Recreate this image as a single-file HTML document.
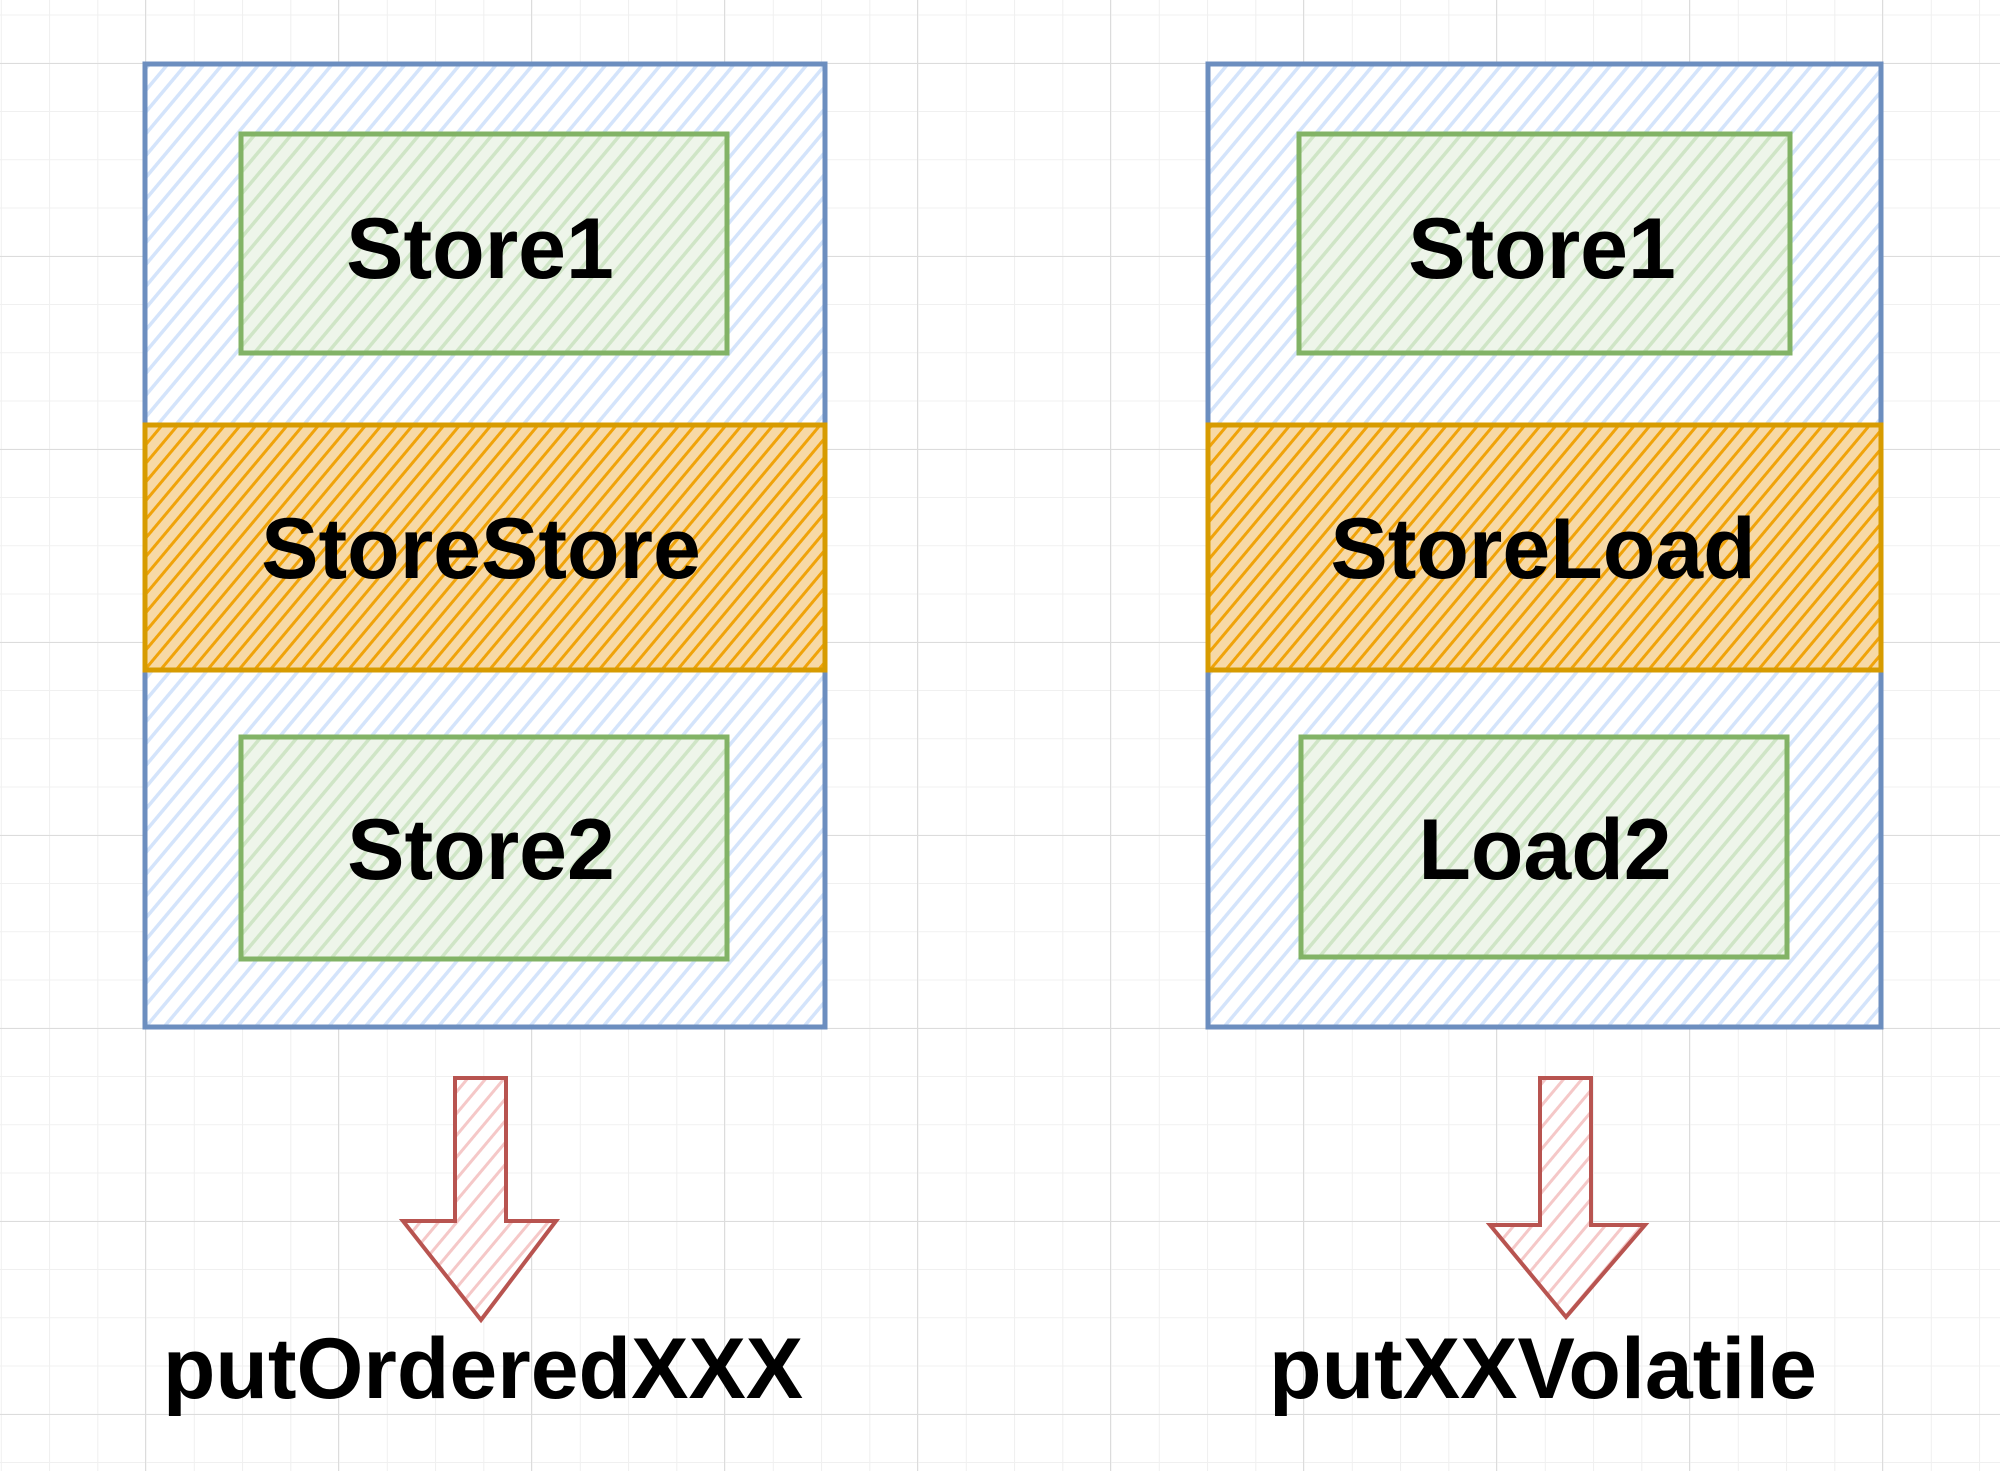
<!DOCTYPE html>
<html><head><meta charset="utf-8"><style>
html,body{margin:0;padding:0;background:#fff}
svg{display:block}
text{font-family:"Liberation Sans",sans-serif;font-weight:bold;fill:#000;text-anchor:middle}
</style></head><body>
<svg width="2000" height="1471" viewBox="0 0 2000 1471" xmlns="http://www.w3.org/2000/svg">
<defs>
<pattern id="minor" width="48.25" height="48.25" patternUnits="userSpaceOnUse" x="0.8" y="14.5">
<path d="M0 0H48.25M0 0V48.25" stroke="#f0f0f0" stroke-width="2" fill="none"/></pattern>
<pattern id="major" width="193" height="193" patternUnits="userSpaceOnUse" x="145" y="63">
<path d="M0 0H193M0 0V193" stroke="#dcdcdc" stroke-width="2" fill="none"/></pattern>
<pattern id="hb" width="14" height="14" patternUnits="userSpaceOnUse" patternTransform="rotate(40)">
<rect width="14" height="14" fill="#fff"/><line x1="0" y1="0" x2="0" y2="14" stroke="#d4e4fb" stroke-width="7"/></pattern>
<pattern id="hg" width="14" height="14" patternUnits="userSpaceOnUse" patternTransform="rotate(40)">
<rect width="14" height="14" fill="#eef5ea"/><line x1="0" y1="0" x2="0" y2="14" stroke="#cfe5c6" stroke-width="7"/></pattern>
<pattern id="ho" width="12" height="12" patternUnits="userSpaceOnUse" patternTransform="rotate(40)">
<rect width="12" height="12" fill="#f7d9a6"/><line x1="0" y1="0" x2="0" y2="12" stroke="#f0a30a" stroke-width="6"/></pattern>
<pattern id="hr" width="14" height="14" patternUnits="userSpaceOnUse" patternTransform="rotate(40)">
<rect width="14" height="14" fill="#fff"/><line x1="0" y1="0" x2="0" y2="14" stroke="#f5c8c8" stroke-width="6"/></pattern>
</defs>
<rect width="2000" height="1471" fill="url(#minor)"/>
<rect width="2000" height="1471" fill="url(#major)"/>

<!-- left -->
<rect x="145" y="64" width="680" height="963" fill="url(#hb)" stroke="#6c8ebf" stroke-width="5"/>
<rect x="241" y="134" width="486" height="219" fill="url(#hg)" stroke="#82b366" stroke-width="5"/>
<rect x="145" y="425" width="680" height="245" fill="url(#ho)" stroke="#d79b00" stroke-width="5"/>
<rect x="241" y="737" width="486" height="222" fill="url(#hg)" stroke="#82b366" stroke-width="5"/>
<text x="480" y="278" font-size="86">Store1</text>
<text x="481" y="578" font-size="86">StoreStore</text>
<text x="481" y="879" font-size="86">Store2</text>
<path d="M455 1078H506V1221H556L481 1320L403 1221H455Z" fill="url(#hr)" stroke="#b85450" stroke-width="4"/>
<text x="483" y="1398" font-size="86">putOrderedXXX</text>

<!-- right -->
<rect x="1208" y="64" width="673" height="963" fill="url(#hb)" stroke="#6c8ebf" stroke-width="5"/>
<rect x="1299" y="134" width="491" height="219" fill="url(#hg)" stroke="#82b366" stroke-width="5"/>
<rect x="1208" y="425" width="673" height="245" fill="url(#ho)" stroke="#d79b00" stroke-width="5"/>
<rect x="1301" y="737" width="486" height="220" fill="url(#hg)" stroke="#82b366" stroke-width="5"/>
<text x="1542" y="278" font-size="86">Store1</text>
<text x="1543" y="578" font-size="86">StoreLoad</text>
<text x="1545" y="879" font-size="86">Load2</text>
<path d="M1540 1078H1591V1225H1645L1566 1317L1490 1225H1540Z" fill="url(#hr)" stroke="#b85450" stroke-width="4"/>
<text x="1543" y="1398" font-size="86">putXXVolatile</text>
</svg>
</body></html>
